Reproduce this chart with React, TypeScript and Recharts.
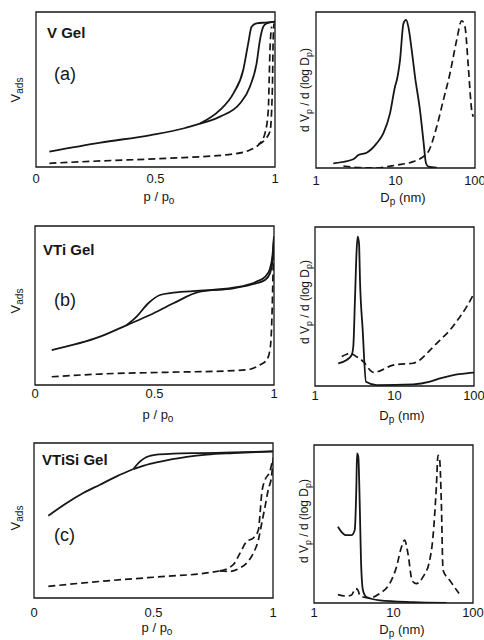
import React from 'react';
import { LineChart, Line, XAxis, YAxis, ReferenceArea } from 'recharts';

const FONT = '"Liberation Sans", Arial, Helvetica, sans-serif';
const INK = '#161616';

// tick labels
const P_TICKS = [0, 0.5, 1];
const D_TICKS = [1, 10, 100];

// ---- (a) V Gel : isotherms (p/p0, relative Vads) ----
const aIsoBase = [[0.056, 9.9], [0.27, 15.7], [0.48, 20.6], [0.62, 25], [0.686, 28]];
const aIsoDes = [[0.686, 28], [0.77, 36.8], [0.826, 47.5], [0.867, 62.6], [0.888, 79.8], [0.902, 90.5], [0.923, 92.7], [0.96, 93.2], [1.0, 93.8]];
const aIsoAds = [[0.686, 28], [0.77, 32.5], [0.854, 41.1], [0.895, 51.8], [0.923, 66.9], [0.937, 81.9], [0.951, 90.5], [0.965, 92.7], [1.0, 93.8]];
const aRefAds = [[0.056, 2.4], [0.27, 3.9], [0.55, 5.6], [0.826, 8.4], [0.895, 11], [0.937, 15.3], [0.958, 21.7], [0.972, 36.8], [0.976, 58.3], [0.979, 75.5], [0.986, 90.5]];
const aRefDes = [[0.93, 14.5], [0.96, 18], [0.979, 23], [0.986, 36.8], [0.99, 58.3], [0.992, 79.8], [0.996, 92.7]];
// (a) pore size distributions (Dp nm, relative dVp/dlogDp)
const aPsdSolid = [[1.65, 3.0], [2.95, 5.6], [3.41, 8.3], [4.34, 9.8], [5.79, 15.8], [7.03, 22.2], [8.53, 35], [9.86, 52.1], [10.4, 56.4], [11.4, 69.2], [12.6, 92.7], [13.6, 94.9], [14.5, 90.6], [16.0, 75.6], [17.6, 58.5], [20.3, 37.2], [22.4, 17.9], [24.2, 3.0], [25.9, 0.9], [33, 0.2]];
const aPsdDashed = [[2.21, 1.3], [3.58, 0.2], [6.38, 0.1], [7.74, 0.9], [10.4, 1.9], [16.7, 4.1], [22.4, 7.3], [25.9, 10.5], [33, 26.5], [40, 43.6], [48.5, 60.7], [58.8, 82], [68, 94.4], [74.8, 90.6], [82.4, 64.9], [90.8, 37.2], [95.2, 32.9]];

// ---- (b) VTi Gel ----
const bIsoAds = [[0.07, 22], [0.272, 30.4], [0.384, 37.7], [0.481, 44], [0.579, 51.4], [0.69, 58.7], [0.83, 60.8], [0.927, 64], [0.962, 66], [0.983, 70.2], [0.994, 78.6], [1.0, 93.3]];
const bIsoDes = [[0.384, 37.7], [0.425, 43], [0.474, 51.4], [0.523, 56.6], [0.579, 58.1], [0.69, 59.3], [0.83, 61.2], [0.927, 65], [0.962, 68], [0.983, 73], [0.994, 82], [1.0, 93.3]];
const bRef = [[0.07, 5.2], [0.272, 6.9], [0.551, 8], [0.83, 9], [0.9, 9.9], [0.941, 12.6], [0.969, 15.7], [0.983, 22], [0.99, 36.7], [0.994, 57.7], [0.997, 78.6], [1.0, 93.3]];
const bPsdSolid = [[1.96, 14.3], [2.5, 16.4], [2.89, 19.5], [3.03, 24.7], [3.19, 56.2], [3.34, 85.5], [3.44, 93.9], [3.58, 89.7], [3.68, 66.7], [3.98, 35.2], [4.38, 2.7], [5.97, 0.6], [17.2, 1.0], [28, 2.7], [37.4, 4.8], [55, 6.9], [81, 8], [100, 8.4]];
const bPsdDashed = [[2.17, 18.5], [2.5, 20], [2.76, 20.6], [3.34, 18.4], [4.06, 15.3], [4.92, 10], [5.5, 8.5], [6.57, 9.5], [8.78, 12.5], [10.6, 13.5], [17.2, 14.3], [20.9, 16.4], [28, 22.6], [37.4, 28.9], [49.9, 35.2], [66.7, 43.6], [81, 49.9], [100, 58.3]];

// ---- (c) VTiSi Gel ----
const cIsoBase = [[0.06, 53.1], [0.137, 61.3], [0.206, 67.7], [0.276, 73.1], [0.346, 78.5], [0.416, 83.2]];
const cIsoDes = [[0.416, 83.2], [0.444, 88.1], [0.471, 91], [0.513, 92.5], [0.583, 93.1], [0.695, 93.5], [0.834, 93.9], [1.0, 94.6]];
const cIsoAds = [[0.416, 83.2], [0.485, 86.6], [0.555, 88.8], [0.639, 91], [0.723, 92.5], [0.834, 93.5], [1.0, 94.6]];
const cRefBase = [[0.06, 7.5], [0.276, 10.7], [0.555, 14], [0.695, 15.6], [0.778, 17.5]];
const cRefDes = [[0.778, 17.5], [0.834, 21.5], [0.862, 29], [0.89, 36.5], [0.918, 38.7], [0.939, 44.1], [0.946, 54.8], [0.953, 67.7], [0.967, 76.3], [0.987, 81.7], [1.0, 90.3]];
const cRefAds = [[0.778, 17.5], [0.82, 17.2], [0.862, 19.4], [0.89, 22.6], [0.918, 29], [0.939, 37.6], [0.953, 48.4], [0.967, 59.1], [0.98, 69.9], [0.994, 78.5], [1.0, 89.2]];
const cPsdSolid = [[2.0, 48.2], [2.21, 45], [2.55, 42.9], [2.95, 42.9], [3.25, 46.1], [3.41, 73.6], [3.48, 94.7], [3.61, 92.6], [3.76, 63], [3.9, 27.1], [4.13, 8.1], [4.56, 3.8], [6.7, 1.7], [17.6, 0.6], [46.3, 0.1]];
const cPsdDashed = [[2.0, 5.3], [2.55, 4.4], [2.95, 4.9], [3.34, 9.1], [3.58, 8.1], [3.76, 4.9], [4.13, 3.8], [5.02, 3.2], [6.7, 6], [8.96, 12.3], [10.9, 22.8], [12.6, 35.5], [13.8, 39.8], [15.2, 31.3], [17.2, 14], [19.4, 12.3], [23.5, 16.5], [28.5, 27], [31.4, 42], [34.6, 73.6], [36.3, 93.5], [38.1, 90.5], [40, 63], [42, 20.7], [50.9, 14.4], [66.7, 6]];

const toPts = (arr: number[][]) => arr.map(([x, y]) => ({ x, y }));

type Series = { data: number[][]; dashed?: boolean };
type PanelProps = {
  frame: [number, number, number, number];
  log?: boolean;
  series: Series[];
  tickGap: number;
};

function Panel({ frame, log, series, tickGap }: PanelProps) {
  const [x0, y0, x1, y1] = frame;
  const ML = 4, MR = 14, MT = 4, XH = 34;
  const width = x1 - x0 + ML + MR;
  const height = y1 - y0 + MT + XH;
  const domain = log ? [1, 100] : [0, 1];
  return (
    <div style={{ position: 'absolute', left: x0 - ML, top: y0 - MT }}>
      <LineChart width={width} height={height} margin={{ top: MT, right: MR, bottom: 0, left: ML }}>
        <XAxis
          dataKey="x"
          type="number"
          scale={log ? 'log' : 'linear'}
          domain={domain}
          ticks={log ? D_TICKS : P_TICKS}
          interval={0}
          allowDataOverflow
          axisLine={false}
          tickLine={false}
          tickSize={tickGap}
          tickMargin={0}
          height={XH}
          tick={{ fill: INK, fontSize: 13, fontFamily: FONT }}
        />
        <YAxis hide type="number" domain={[0, 100]} allowDataOverflow />
        <ReferenceArea
          x1={domain[0]}
          x2={domain[1]}
          y1={0}
          y2={100}
          fill="none"
          fillOpacity={0}
          stroke={INK}
          strokeWidth={1.3}
          ifOverflow="visible"
        />
        {series.map((s, i) => (
          <Line
            key={i}
            data={toPts(s.data)}
            dataKey="y"
            type="monotone"
            stroke={INK}
            strokeWidth={s.dashed ? 1.7 : 1.8}
            strokeDasharray={s.dashed ? '7 4' : undefined}
            dot={false}
            activeDot={false}
            isAnimationActive={false}
          />
        ))}
      </LineChart>
    </div>
  );
}

function PLabel({ x, y }: { x: number; y: number }) {
  return (
    <text x={x} y={y} textAnchor="middle" fontSize={13} fontFamily={FONT} fill={INK}>
      p / p<tspan fontSize={10} dy={3}>o</tspan>
    </text>
  );
}
function DLabel({ x, y }: { x: number; y: number }) {
  return (
    <text x={x} y={y} textAnchor="middle" fontSize={13} fontFamily={FONT} fill={INK}>
      D<tspan fontSize={10} dy={3}>p</tspan>
      <tspan dy={-3}> (nm)</tspan>
    </text>
  );
}
function VLabel({ x, y }: { x: number; y: number }) {
  return (
    <text x={x} y={y} textAnchor="middle" fontSize={13} fontFamily={FONT} fill={INK} transform={`rotate(-90 ${x} ${y})`}>
      V<tspan fontSize={10} dy={3}>ads</tspan>
    </text>
  );
}
function PsdLabel({ x, y }: { x: number; y: number }) {
  return (
    <text x={x} y={y} textAnchor="middle" fontSize={12} fontFamily={FONT} fill={INK} transform={`rotate(-90 ${x} ${y})`}>
      d V<tspan fontSize={9} dy={3}>p</tspan>
      <tspan dy={-3}> / d (log D</tspan>
      <tspan fontSize={9} dy={3}>p</tspan>
      <tspan dy={-3}>)</tspan>
    </text>
  );
}

export default function App() {
  return (
    <div style={{ position: 'absolute', left: 0, top: 0, width: 484, height: 640, background: '#fff', overflow: 'hidden' }}>
      <Panel frame={[36, 12, 275, 167]} tickGap={7} series={[{ data: aIsoBase }, { data: aIsoDes }, { data: aIsoAds }, { data: aRefAds, dashed: true }, { data: aRefDes, dashed: true }]} />
      <Panel frame={[316, 12, 475, 168]} log tickGap={8} series={[{ data: aPsdSolid }, { data: aPsdDashed, dashed: true }]} />
      <Panel frame={[35, 226, 274, 385]} tickGap={4} series={[{ data: bIsoAds }, { data: bIsoDes }, { data: bRef, dashed: true }]} />
      <Panel frame={[315, 227, 474, 386]} log tickGap={5} series={[{ data: bPsdSolid }, { data: bPsdDashed, dashed: true }]} />
      <Panel frame={[34, 443, 273, 598]} tickGap={10} series={[{ data: cIsoBase }, { data: cIsoDes }, { data: cIsoAds }, { data: cRefBase, dashed: true }, { data: cRefDes, dashed: true }, { data: cRefAds, dashed: true }]} />
      <Panel frame={[314, 445, 473, 603]} log tickGap={5} series={[{ data: cPsdSolid }, { data: cPsdDashed, dashed: true }]} />
      <svg width={484} height={640} style={{ position: 'absolute', left: 0, top: 0, pointerEvents: 'none' }}>
        <text x={47} y={38} fontSize={15} fontWeight="bold" fontFamily={FONT} fill={INK}>V Gel</text>
        <text x={54} y={80} fontSize={18} fontFamily={FONT} fill={INK}>(a)</text>
        <text x={43} y={255} fontSize={15} fontWeight="bold" fontFamily={FONT} fill={INK}>VTi Gel</text>
        <text x={54} y={306} fontSize={18} fontFamily={FONT} fill={INK}>(b)</text>
        <text x={42} y={465} fontSize={15} fontWeight="bold" fontFamily={FONT} fill={INK}>VTiSi Gel</text>
        <text x={54} y={541} fontSize={18} fontFamily={FONT} fill={INK}>(c)</text>
        <PLabel x={159} y={201} />
        <PLabel x={158} y={419} />
        <PLabel x={157} y={632} />
        <DLabel x={403} y={202} />
        <DLabel x={402} y={420} />
        <DLabel x={402} y={634} />
        <VLabel x={20} y={90} />
        <VLabel x={20} y={301} />
        <VLabel x={20} y={518} />
        <PsdLabel x={309} y={90} />
        <PsdLabel x={309} y={302} />
        <PsdLabel x={308} y={521} />
      </svg>
    </div>
  );
}
